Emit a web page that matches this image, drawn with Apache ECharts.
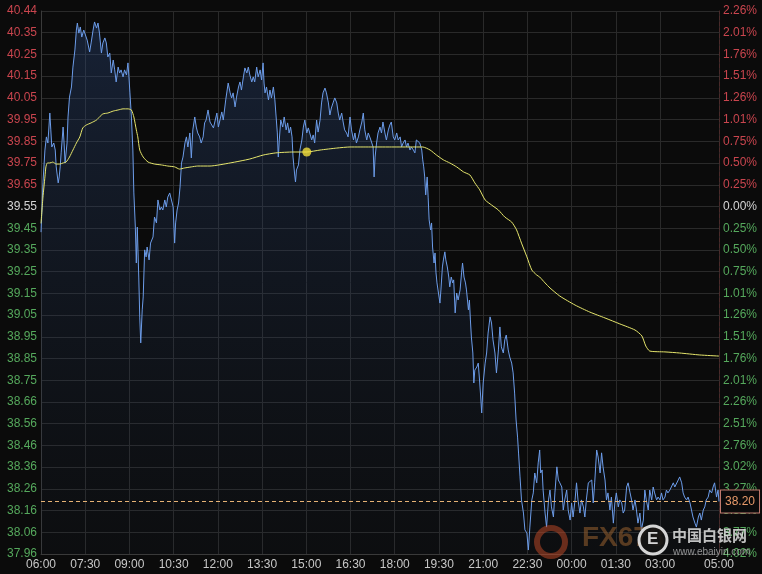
<!DOCTYPE html>
<html><head><meta charset="utf-8">
<script src="https://cdn.jsdelivr.net/npm/echarts@6/dist/echarts.min.js"></script>
<style>html,body{margin:0;padding:0;background:#0b0b0b;}#c{width:762px;height:574px;}</style>
</head><body><div id="c"></div>
<script>
// x: minutes since 06:00 (session 06:00 -> 05:00 next day)
const xTickMinutes = [0,90,180,270,360,450,540,630,720,810,900,990,1080,1170,1260,1380];
const xTickLabels = ['06:00','07:30','09:00','10:30','12:00','13:30','15:00','16:30','18:00','19:30','21:00','22:30','00:00','01:30','03:00','05:00'];
const leftLabels = ['40.44','40.35','40.25','40.15','40.05','39.95','39.85','39.75','39.65','39.55','39.45','39.35','39.25','39.15','39.05','38.95','38.85','38.75','38.66','38.56','38.46','38.36','38.26','38.16','38.06','37.96'];
const rightLabels = ['2.26%','2.01%','1.76%','1.51%','1.26%','1.01%','0.75%','0.50%','0.25%','0.00%','0.25%','0.50%','0.75%','1.01%','1.26%','1.51%','1.76%','2.01%','2.26%','2.51%','2.76%','3.02%','3.27%','3.52%','3.77%','4.02%'];
const yTop = 40.44, yBottom = 37.96;
const lastPrice = 38.20;
const avgMarker = [541, 39.796];

// price line [minute, price]
const pricePoints = [
[0,39.43],[4,39.655],[8,39.805],[11,39.865],[14,39.837],[18,39.974],[20,39.897],[22,39.819],[26,39.837],[29,39.805],
[31,39.728],[35,39.655],[37,39.682],[39,39.728],[41,39.792],[45,39.910],[47,39.837],[49,39.746],[53,39.837],[55,39.956],
[58,40.047],[62,40.093],[65,40.184],[69,40.262],[72,40.353],[74,40.385],[77,40.339],[80,40.367],[83,40.321],[87,40.353],
[90,40.344],[94,40.307],[99,40.253],[102,40.294],[106,40.353],[109,40.390],[113,40.362],[116,40.385],[119,40.339],[123,40.248],
[126,40.294],[130,40.317],[133,40.294],[136,40.230],[140,40.248],[143,40.157],[147,40.216],[150,40.171],[153,40.116],[157,40.184],
[160,40.157],[163,40.171],[167,40.139],[170,40.171],[174,40.148],[177,40.203],[179,40.139],[181,40.066],[184,39.956],[187,39.805],
[189,39.609],[192,39.453],[194,39.289],[196,39.453],[199,39.225],[201,39.042],[203,38.924],[206,39.075],[208,39.134],[211,39.349],
[214,39.317],[216,39.362],[220,39.303],[223,39.380],[228,39.408],[231,39.499],[235,39.472],[238,39.577],[242,39.531],[245,39.545],
[248,39.531],[252,39.577],[255,39.545],[258,39.590],[262,39.609],[265,39.613],[269,39.545],[272,39.380],[274,39.472],[277,39.531],
[280,39.563],[283,39.636],[286,39.746],[289,39.773],[293,39.837],[296,39.865],[299,39.819],[303,39.883],[306,39.769],[309,39.897],
[313,39.956],[316,39.910],[319,39.883],[323,39.865],[326,39.837],[330,39.865],[333,39.929],[336,39.942],[340,39.988],[344,39.933],
[351,39.906],[358,39.974],[361,39.910],[368,39.979],[371,39.942],[376,40.034],[381,40.111],[385,40.066],[388,40.043],[391,40.066],
[395,40.002],[398,40.047],[402,40.093],[405,40.116],[408,40.079],[412,40.139],[415,40.180],[419,40.157],[422,40.184],[425,40.148],
[429,40.116],[432,40.139],[435,40.116],[439,40.184],[442,40.139],[446,40.171],[449,40.125],[452,40.203],[454,40.111],[456,40.066],
[459,40.093],[463,40.034],[466,40.079],[469,40.043],[473,40.093],[476,40.034],[478,39.974],[481,39.883],[483,39.773],[485,39.851],
[488,39.942],[492,39.910],[495,39.956],[499,39.897],[502,39.929],[505,39.883],[508,39.910],[511,39.865],[513,39.773],[516,39.700],
[518,39.659],[520,39.714],[524,39.737],[527,39.805],[531,39.851],[534,39.910],[537,39.942],[541,39.883],[544,39.906],[547,39.883],
[551,39.851],[554,39.874],[557,39.837],[561,39.942],[564,39.887],[568,39.942],[571,40.020],[574,40.066],[578,40.088],[581,40.066],
[585,40.020],[588,39.965],[591,39.997],[595,40.024],[598,40.043],[602,40.020],[605,39.974],[608,39.942],[612,39.974],[615,39.933],
[618,39.897],[622,39.883],[625,39.865],[629,39.956],[632,39.897],[636,39.851],[639,39.883],[642,39.837],[646,39.865],[649,39.897],
[653,39.933],[656,39.974],[659,39.897],[663,39.851],[666,39.883],[670,39.860],[673,39.865],[676,39.819],[678,39.682],[680,39.773],
[683,39.837],[686,39.883],[690,39.910],[693,39.883],[696,39.933],[700,39.883],[703,39.851],[707,39.897],[710,39.919],[713,39.933],
[717,39.865],[720,39.851],[724,39.883],[727,39.851],[731,39.865],[734,39.819],[737,39.837],[741,39.851],[744,39.819],[747,39.837],
[751,39.805],[754,39.819],[758,39.805],[761,39.792],[764,39.851],[768,39.860],[771,39.837],[775,39.805],[777,39.760],[779,39.728],
[781,39.682],[783,39.600],[786,39.682],[788,39.590],[790,39.486],[793,39.440],[795,39.472],[797,39.362],[800,39.289],[802,39.335],
[804,39.244],[806,39.198],[809,39.152],[812,39.106],[814,39.166],[817,39.271],[819,39.303],[822,39.340],[824,39.303],[827,39.271],
[830,39.225],[832,39.180],[835,39.225],[838,39.198],[840,39.212],[843,39.061],[846,39.152],[849,39.120],[853,39.166],[856,39.244],
[858,39.289],[861,39.225],[864,39.198],[866,39.166],[870,39.075],[872,39.120],[874,39.029],[876,38.951],[879,38.878],[881,38.741],
[883,38.800],[887,38.814],[890,38.832],[893,38.741],[895,38.677],[897,38.604],[900,38.741],[904,38.832],[907,38.878],[910,38.969],
[914,39.043],[917,39.015],[920,38.938],[924,38.878],[927,38.787],[931,38.892],[934,38.997],[937,38.906],[941,38.878],[944,38.938],
[947,38.960],[951,38.892],[954,38.860],[958,38.832],[961,38.787],[964,38.695],[967,38.572],[970,38.494],[972,38.421],[975,38.312],
[978,38.207],[982,38.147],[985,38.070],[989,38.056],[992,37.978],[995,38.083],[999,38.207],[1002,38.239],[1005,38.330],[1009,38.285],
[1012,38.376],[1015,38.435],[1017,38.330],[1020,38.344],[1022,38.252],[1026,38.147],[1029,38.083],[1033,38.207],[1036,38.252],[1039,38.175],
[1043,38.129],[1046,38.239],[1050,38.358],[1053,38.298],[1056,38.285],[1060,38.266],[1063,38.161],[1066,38.207],[1070,38.252],[1073,38.161],
[1077,38.115],[1080,38.193],[1083,38.129],[1087,38.207],[1090,38.285],[1093,38.207],[1097,38.147],[1100,38.207],[1104,38.175],[1107,38.129],
[1110,38.207],[1114,38.285],[1117,38.285],[1121,38.298],[1124,38.193],[1127,38.285],[1131,38.435],[1134,38.403],[1138,38.330],[1141,38.422],
[1144,38.358],[1148,38.298],[1151,38.207],[1154,38.239],[1158,38.161],[1161,38.220],[1165,38.101],[1168,38.193],[1171,38.239],[1175,38.175],
[1178,38.207],[1182,38.193],[1185,38.147],[1188,38.161],[1192,38.266],[1195,38.285],[1199,38.239],[1202,38.207],[1205,38.161],[1209,38.207],
[1212,38.161],[1215,38.101],[1219,38.147],[1222,38.070],[1226,38.115],[1229,38.252],[1232,38.207],[1236,38.161],[1239,38.252],[1243,38.207],
[1246,38.266],[1249,38.239],[1253,38.207],[1256,38.220],[1260,38.207],[1263,38.239],[1266,38.207],[1270,38.220],[1273,38.252],[1276,38.239],
[1280,38.252],[1283,38.266],[1287,38.285],[1290,38.266],[1293,38.266],[1297,38.298],[1300,38.312],[1304,38.285],[1307,38.239],[1310,38.220],
[1314,38.207],[1317,38.220],[1321,38.193],[1324,38.161],[1327,38.129],[1331,38.101],[1334,38.083],[1338,38.129],[1341,38.147],[1344,38.115],
[1348,38.161],[1351,38.175],[1354,38.207],[1358,38.220],[1361,38.252],[1365,38.239],[1368,38.266],[1371,38.285],[1375,38.220],[1378,38.252],
[1380,38.20]
];

// average price line [minute, price]
const avgPoints = [
[0,39.47],[4,39.590],[8,39.682],[10,39.728],[13,39.746],[18,39.746],[24,39.750],[31,39.741],[38,39.741],[45,39.746],
[51,39.750],[58,39.773],[65,39.805],[72,39.837],[79,39.865],[85,39.906],[92,39.919],[102,39.929],[113,39.942],[119,39.956],
[126,39.970],[136,39.974],[147,39.983],[157,39.988],[167,39.993],[177,39.993],[184,39.988],[189,39.956],[194,39.897],[197,39.865],
[201,39.805],[208,39.773],[218,39.750],[231,39.741],[245,39.737],[258,39.732],[272,39.728],[282,39.718],[292,39.723],[306,39.728],
[319,39.732],[344,39.732],[385,39.746],[425,39.764],[452,39.782],[478,39.792],[513,39.796],[541,39.796],[568,39.805],[602,39.814],
[629,39.819],[670,39.819],[710,39.819],[751,39.819],[777,39.819],[792,39.805],[805,39.782],[819,39.760],[832,39.746],[846,39.728],
[860,39.705],[873,39.691],[883,39.655],[893,39.623],[904,39.577],[917,39.554],[931,39.531],[944,39.499],[958,39.476],[968,39.440],
[978,39.380],[989,39.317],[999,39.257],[1009,39.234],[1015,39.225],[1026,39.198],[1036,39.175],[1056,39.138],[1087,39.097],[1117,39.065],
[1148,39.038],[1178,39.011],[1209,38.983],[1223,38.956],[1231,38.910],[1239,38.887],[1270,38.883],[1300,38.878],[1341,38.869],[1380,38.864]
];

const yStep = (yTop - yBottom) / (leftLabels.length - 1);
const yTicks = leftLabels.map((_, i) => yBottom + i * yStep);
function rowIndex(v){ return (leftLabels.length - 1) - Math.round((v - yBottom) / yStep); }
function rowColor(v){ const i = rowIndex(v); return i < 9 ? '#c9454e' : (i === 9 ? '#d4d4d4' : '#55a85c'); }

const chart = echarts.init(document.getElementById('c'), null, {renderer:'canvas'});
const font = 'Arial, "Liberation Sans", sans-serif';
chart.setOption({
  backgroundColor: '#0b0b0b',
  animation: false,
  grid: {left: 41, right: 43, top: 11, bottom: 20},
  xAxis: {
    type: 'value', min: 0, max: 1380,
    axisLine: {show: true, lineStyle: {color: '#3a3a3a'}},
    axisTick: {show: false, customValues: xTickMinutes},
    axisLabel: {customValues: xTickMinutes, color: '#c8c8c8', fontSize: 12, fontFamily: font, margin: 5,
      formatter: v => xTickLabels[xTickMinutes.indexOf(Math.round(v))] || ''},
    splitLine: {show: true, lineStyle: {color: '#2a2a2a', width: 1}}
  },
  yAxis: [{
    type: 'value', min: yBottom, max: yTop, position: 'left',
    axisLine: {show: true, lineStyle: {color: '#3a3a3a'}},
    axisTick: {show: false, customValues: yTicks},
    axisLabel: {customValues: yTicks, fontSize: 12, fontFamily: font, margin: 4,
      formatter: v => leftLabels[rowIndex(v)], color: v => rowColor(v)},
    splitLine: {show: true, lineStyle: {color: '#2a2a2a', width: 1}}
  },{
    type: 'value', min: yBottom, max: yTop, position: 'right',
    axisLine: {show: true, lineStyle: {color: '#4a2a2a', type: 'dashed'}},
    axisTick: {show: false, customValues: yTicks},
    axisLabel: {customValues: yTicks, fontSize: 12, fontFamily: font, margin: 4,
      formatter: v => rightLabels[rowIndex(v)], color: v => rowColor(v)},
    splitLine: {show: false}
  }],
  series: [{
    type: 'line', data: pricePoints, showSymbol: false, symbol: 'none',
    lineStyle: {color: '#6c9ce9', width: 1},
    areaStyle: {color: new echarts.graphic.LinearGradient(0,0,0,1,[
      {offset:0, color:'rgba(45,75,130,0.50)'},{offset:1, color:'rgba(30,45,70,0.12)'}])},
    z: 3,
    markLine: {
      silent: true, symbol: 'none', animation: false, z: 20,
      lineStyle: {color: '#e6b274', type: [4,3], width: 1, opacity: 1},
      label: {show: true, position: 'end', distance: 2, formatter: '38.20', color: '#e89a6a', fontSize: 12, fontFamily: font,
        lineHeight: 13, backgroundColor: '#0b0b0b', borderColor: '#c07a6e', borderWidth: 1, padding: [4,4,5,4]},
      data: [{yAxis: lastPrice}]
    }
  },{
    type: 'line', data: avgPoints, showSymbol: false, symbol: 'none', smooth: 0.2,
    lineStyle: {color: '#e6e66c', width: 1}, z: 4
  },{
    type: 'scatter', data: [avgMarker], symbolSize: 9, itemStyle: {color: '#f2df3a'}, z: 5
  }],
  graphic: [
    {type:'circle', shape:{cx:551, cy:542, r:14}, style:{fill:'none', stroke:'rgba(200,75,40,0.5)', lineWidth:6}, z:50, silent:true},
    {type:'text', left: 582, top: 524, style:{text:'FX678', fill:'rgba(140,90,45,0.6)', font:'bold 28px Arial'}, z:50, silent:true},
    {type:'circle', shape:{cx:653, cy:540, r:14}, style:{fill:'rgba(20,20,20,0.9)', stroke:'rgba(235,235,235,0.9)', lineWidth:3}, z:51, silent:true},
    {type:'text', left: 647, top: 531, style:{text:'E', fill:'rgba(235,235,235,0.9)', font:'bold 17px Arial'}, z:52, silent:true},
    {type:'text', left: 672, top: 528, style:{text:'中国白银网', fill:'rgba(225,225,225,0.85)', font:'bold 15px "Noto Sans CJK SC"'}, z:52, silent:true},
    {type:'text', left: 673, top: 547, style:{text:'www.ebaiyin.com', fill:'rgba(190,190,190,0.75)', font:'10px Arial'}, z:52, silent:true}
  ]
});
</script></body></html>
